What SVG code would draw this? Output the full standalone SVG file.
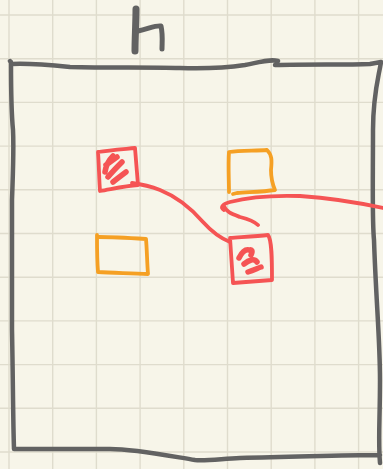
<svg xmlns="http://www.w3.org/2000/svg" width="383" height="469" viewBox="0 0 383 469">
<style>
.grid{stroke:#dfdccd;stroke-width:1.4;fill:none}
.frame{stroke:#626262;stroke-width:4.5;fill:none;stroke-linecap:round;stroke-linejoin:round}
.red{stroke:#f55454;stroke-width:3.8;fill:none;stroke-linecap:round;stroke-linejoin:round}
.orange{stroke:#f5a024;stroke-width:3.8;fill:none;stroke-linecap:round;stroke-linejoin:round}
.hatch{stroke:#f55454;stroke-width:5.5;fill:none;stroke-linecap:round}
</style>
<rect width="383" height="469" fill="#f7f5e9"/>
<path class="grid" d="M9,0V469M52.7,0V469M96.4,0V469M140.1,0V469M183.8,0V469M227.5,0V469M271.2,0V469M314.9,0V469M358.6,0V469M0,15H383M0,58.7H383M0,102.4H383M0,146.1H383M0,189.8H383M0,233.5H383M0,277.2H383M0,320.9H383M0,364.6H383M0,408.3H383M0,452H383"/>
<g id="frame">
<path class="frame" d="M10,61 L12,64 C30,63 50,65 70,67 C110,68 150,67 180,68 C210,69 225,68 245,65 C260,62 270,59 278,61 M275,65 C310,64 345,65 370,64 L381,62 C378,80 373,95 373,130 C373,180 372,220 374,240 C376,300 380,340 380,380 C380,420 378,440 380,463 M380,455 C340,455 300,457 240,458 C220,459 205,461 195,460 C170,456 135,449 110,449 L14,449 C13,420 13,380 12,330 C12,280 12,230 12,200 C13,170 14,150 13,130 C11,110 11,80 11,62"/>
<path class="frame" style="stroke-width:7" d="M136,9 C136,22 135,38 135,51"/>
<path class="frame" style="stroke-width:5" d="M138,31 C148,29 156,25 161,26 C163,35 162,42 162,49"/>
</g>
<g id="node-red-1">
<path class="red" d="M98,152 C110,150 125,149 135,148 C136,160 137,172 138,185 C125,186 112,189 100,191 C99,178 99,165 98,152"/>
<path class="hatch" d="M105,172 C106,165 109,160 113,156 M108,177 C113,171 118,166 122,162 M113,182 C118,178 122,175 126,172 M106,165 L117,157"/>
</g>
<g id="node-orange-1">
<path class="orange" d="M229,192 C229,180 228,165 229,152 C240,150 255,151 267,150 C272,155 272,160 271,170 C271,178 272,183 275,190 C262,192 248,192 237,193 L233,194"/>
</g>
<g id="node-orange-2">
<path class="orange" d="M97,235 C97,248 97,260 98,272 C112,273 130,273 148,274 C147,262 147,250 146,239 C130,238 112,237 99,237"/>
</g>
<g id="node-red-2">
<path class="red" d="M230,238 C243,237 258,236 268,235 C272,240 272,260 272,280 C258,281 245,282 233,283 C232,268 231,252 230,238"/>
<path class="hatch" d="M239,258 C242,252 245,249 249,250 C252,249 253,251 251,255 M244,264 C249,260 254,258 257,262 M248,272 C254,270 258,268 261,267"/>
</g>
<g id="connectors">
<path class="red" d="M132,183 C140,184 150,186 160,190 C175,196 190,207 203,222 C212,232 220,238 230,242"/>
<path class="red" d="M383,208 C360,203 330,198 300,196 C270,195 245,198 230,202 C222,204 220,208 224,210 L224,206 C226,212 232,214 240,217 C248,219 255,222 258,225"/>
</g>
</svg>
